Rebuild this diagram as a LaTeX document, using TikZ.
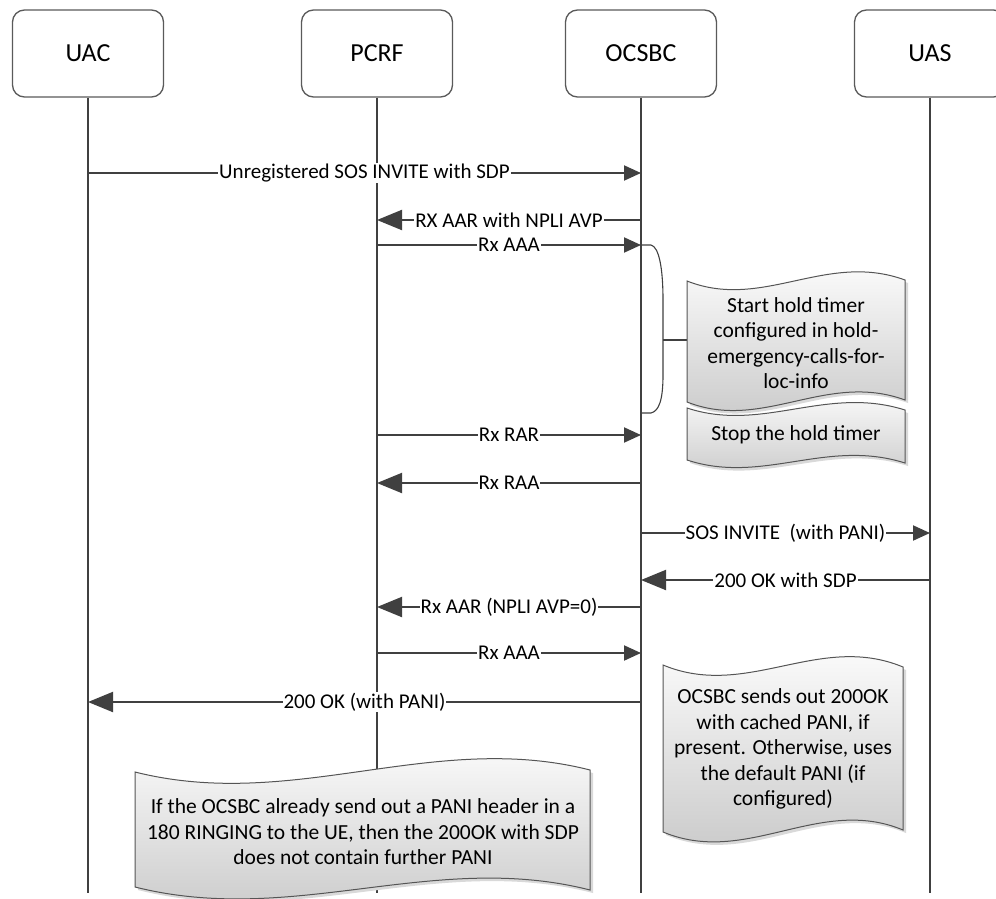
\documentclass[tikz,border=0pt]{standalone}
\usepackage{fontspec}
\setmainfont{Carlito}
\usetikzlibrary{arrows.meta}
\definecolor{linec}{HTML}{404040}
\definecolor{boxc}{HTML}{5A5A5A}
\definecolor{notec}{HTML}{555555}
\begin{document}
\begin{tikzpicture}[x=1pt,y=-1pt,
 actor/.style={draw=boxc, line width=1.3pt, rounded corners=12pt, minimum width=151pt, minimum height=87pt, font=\fontsize{26}{30}\selectfont, inner sep=0pt},
 life/.style={draw=linec, line width=1.8pt},
 msgR/.style={draw=linec, line width=2pt, -{Triangle[length=17pt,width=15pt]}},
 msgL/.style={draw=linec, line width=2pt, -{Triangle[length=25pt,width=20pt]}},
 lbl/.style={fill=white, inner sep=1pt, font=\fontsize{21}{24}\selectfont},
 notebox/.style={draw=notec, line width=1pt, top color=white, bottom color=black!22},
 noteshadow/.style={fill=black!15},
 notetext/.style={align=center, font=\fontsize{21.5}{25.5}\selectfont, inner sep=0pt},
 bracec/.style={draw=linec, line width=1.1pt}]
\useasboundingbox (0,0) rectangle (996,899);
\clip (0,0) rectangle (996,899);
\fill[white] (0,0) rectangle (996,899);

% actors
\node[actor] (uac) at (88,53.5) {UAC};
\node[actor] (pcrf) at (377,53.5) {PCRF};
\node[actor] (ocsbc) at (641,53.5) {OCSBC};
\node[actor] (uas) at (930,53.5) {UAS};

\coordinate (uacE) at (88,893);
\coordinate (pcrfE) at (377,893);
\coordinate (ocsbcE) at (641,893);
\coordinate (uasE) at (930,893);

\draw[life] (uac) -- (uacE);
\draw[life] (pcrf) -- (pcrfE);
\draw[life] (ocsbc) -- (ocsbcE);
\draw[life] (uas) -- (uasE);

% messages
\draw[msgR] (uac |- 0,173) -- (ocsbc |- 0,173) node[lbl, midway] {Unregistered SOS INVITE with SDP};
\draw[msgL] (ocsbc |- 0,220) -- (pcrf |- 0,220) node[lbl, midway] {RX AAR with NPLI AVP};
\draw[msgR] (pcrf |- 0,245) -- (ocsbc |- 0,245) node[lbl, midway] {Rx AAA};
\draw[msgR] (pcrf |- 0,435) -- (ocsbc |- 0,435) node[lbl, midway] {Rx RAR};
\draw[msgL] (ocsbc |- 0,483) -- (pcrf |- 0,483) node[lbl, midway] {Rx RAA};
\draw[msgR] (ocsbc |- 0,533) -- (uas |- 0,533) node[lbl, midway] {SOS INVITE\ \ (with PANI)};
\draw[msgL] (uas |- 0,580) -- (ocsbc |- 0,580) node[lbl, midway] {200 OK with SDP};
\draw[msgL] (ocsbc |- 0,607) -- (pcrf |- 0,607) node[lbl, midway] {Rx AAR (NPLI AVP=0)};
\draw[msgR] (pcrf |- 0,653) -- (ocsbc |- 0,653) node[lbl, midway] {Rx AAA};
\draw[msgL] (ocsbc |- 0,702) -- (uac |- 0,702) node[lbl, midway] {200 OK (with PANI)};

% brace
\draw[bracec] (641,245) -- (651,245) .. controls (659,247) and (663,268) .. (663,300) -- (663,375) .. controls (663,400) and (659,411) .. (651,413) -- (641,413);
\coordinate (braceM) at (663,340);
\coordinate (note1W) at (687,340);
\draw[bracec] (braceM) -- (note1W);

% note 1
\fill[noteshadow] (690,284) .. controls (764,314) and (829,254) .. (908,283) -- (908,403) .. controls (829,374) and (764,435) .. (690,405) -- cycle;
\path[notebox] (687,281) .. controls (763,311) and (826,251) .. (905,280) -- (905,400) .. controls (826,371) and (763,432) .. (687,402) -- cycle;
\node[notetext] (n1) at (796,343) {Start hold timer\\configured in hold-\\emergency-calls-for-\\loc-info};

% note 2
\fill[noteshadow] (690,411) .. controls (764,436) and (829,388) .. (908,413) -- (908,466) .. controls (829,441) and (764,488) .. (690,463) -- cycle;
\path[notebox] (687,408) .. controls (763,433) and (826,385) .. (905,410) -- (905,463) .. controls (826,438) and (763,485) .. (687,460) -- cycle;
\node[notetext] (n2) at (796,435) {Stop the hold timer};

% note 3
\fill[noteshadow] (666,668) .. controls (750,703) and (822,635) .. (906,670) -- (906,833) .. controls (822,798) and (750,870) .. (666,835) -- cycle;
\path[notebox] (663,665) .. controls (747,700) and (819,632) .. (903,667) -- (903,830) .. controls (819,795) and (747,867) .. (663,832) -- cycle;
\node[notetext] (n3) at (783,749) {OCSBC sends out 200OK\\with cached PANI, if\\present. Otherwise, uses\\the default PANI (if\\configured)};

% note 4
\fill[noteshadow] (138,775) .. controls (297,815) and (436,733) .. (593,773) -- (593,893) .. controls (436,853) and (297,930) .. (138,890) -- cycle;
\path[notebox] (135,772) .. controls (294,812) and (433,730) .. (590,770) -- (590,890) .. controls (433,850) and (294,927) .. (135,887) -- cycle;
\node[notetext] (n4) at (363,832) {If the OCSBC already send out a PANI header in a\\180 RINGING to the UE, then the 200OK with SDP\\does not contain further PANI};
\end{tikzpicture}
\end{document}
